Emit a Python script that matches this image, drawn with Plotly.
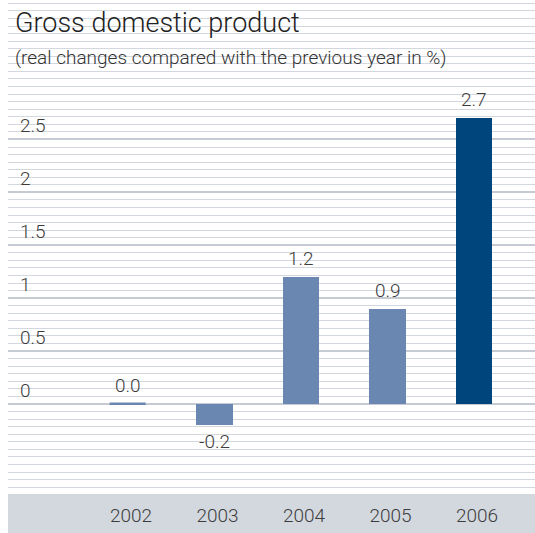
import plotly.graph_objects as go

# Real GDP change vs previous year, in %
years = ["2002", "2003", "2004", "2005", "2006"]
growth = [0.0, -0.2, 1.2, 0.9, 2.7]
bar_colors = ["#6a87b1", "#6a87b1", "#6a87b1", "#6a87b1", "#00457c"]
bar_edge = [2.6, 0, 0, 0, 0]

tick_vals = [0, 0.5, 1, 1.5, 2, 2.5]
tick_text = ["0", "0.5", "1", "1.5", "2", "2.5"]

title_text = "Gross domestic product"
subtitle_text = "(real changes compared with the previous year in %)"

FONT = "Roboto"
TEXT_COLOR = "#3c3c3c"

fig = go.Figure()
fig.add_trace(go.Bar(
    x=years,
    y=growth,
    width=0.42,
    marker=dict(color=bar_colors, line=dict(color=bar_colors, width=bar_edge)),
    hoverinfo="skip",
))

# value labels above positive bars, below negative ones
# (category annotations are positioned by category index)
for i, v in enumerate(growth):
    fig.add_annotation(
        x=i, y=v, xref="x", yref="y",
        text=f"{v:.1f}",
        showarrow=False,
        yanchor="top" if v < 0 else "bottom",
        yshift=-3 if v < 0 else 5,
        font=dict(family=FONT, size=19, color=TEXT_COLOR, weight=300),
    )

fig.add_annotation(
    x=0, y=1, xref="paper", yref="paper", xanchor="left", yanchor="top",
    xshift=5, yshift=-5,
    text=title_text, showarrow=False,
    font=dict(family=FONT, size=27, color="#222222", weight=300),
)
fig.add_annotation(
    x=0, y=1, xref="paper", yref="paper", xanchor="left", yanchor="top",
    xshift=5, yshift=-44,
    text=subtitle_text, showarrow=False,
    font=dict(family=FONT, size=19, color="#333333", weight=300),
)

# grey band holding the year labels
fig.add_shape(
    type="rect", xref="paper", yref="paper",
    x0=0, x1=1, y0=-0.0082, y1=-0.1,
    fillcolor="#d3d8df", line=dict(width=0), layer="below",
)

fig.update_layout(
    width=535, height=533,
    margin=dict(l=8, r=0, t=0, b=43),
    paper_bgcolor="white",
    plot_bgcolor="white",
    showlegend=False,
    bargap=0,
    xaxis=dict(
        type="category",
        range=[-1.387, 4.705],
        showgrid=False, zeroline=False, showline=False,
        ticks="",
        ticklabelstandoff=12,
        ticklabelshift=3,
        tickfont=dict(family=FONT, size=19, color=TEXT_COLOR, weight=300),
        fixedrange=True,
    ),
    yaxis=dict(
        range=[-0.813, 3.818],
        tickmode="array",
        tickvals=tick_vals,
        ticktext=tick_text,
        ticks="",
        ticklabelposition="inside",
        ticklabelstandoff=9,
        ticklabelshift=-14,
        tickfont=dict(family=FONT, size=19, color=TEXT_COLOR, weight=300),
        showgrid=True, gridcolor="#c6cbd3", gridwidth=2,
        zeroline=True, zerolinecolor="#c6cbd3", zerolinewidth=2,
        showline=False,
        minor=dict(tickmode="linear", tick0=0, dtick=0.5 / 7,
                   showgrid=True, gridcolor="#d3d7de", gridwidth=1),
        fixedrange=True,
    ),
)

fig.write_html("out.html")
